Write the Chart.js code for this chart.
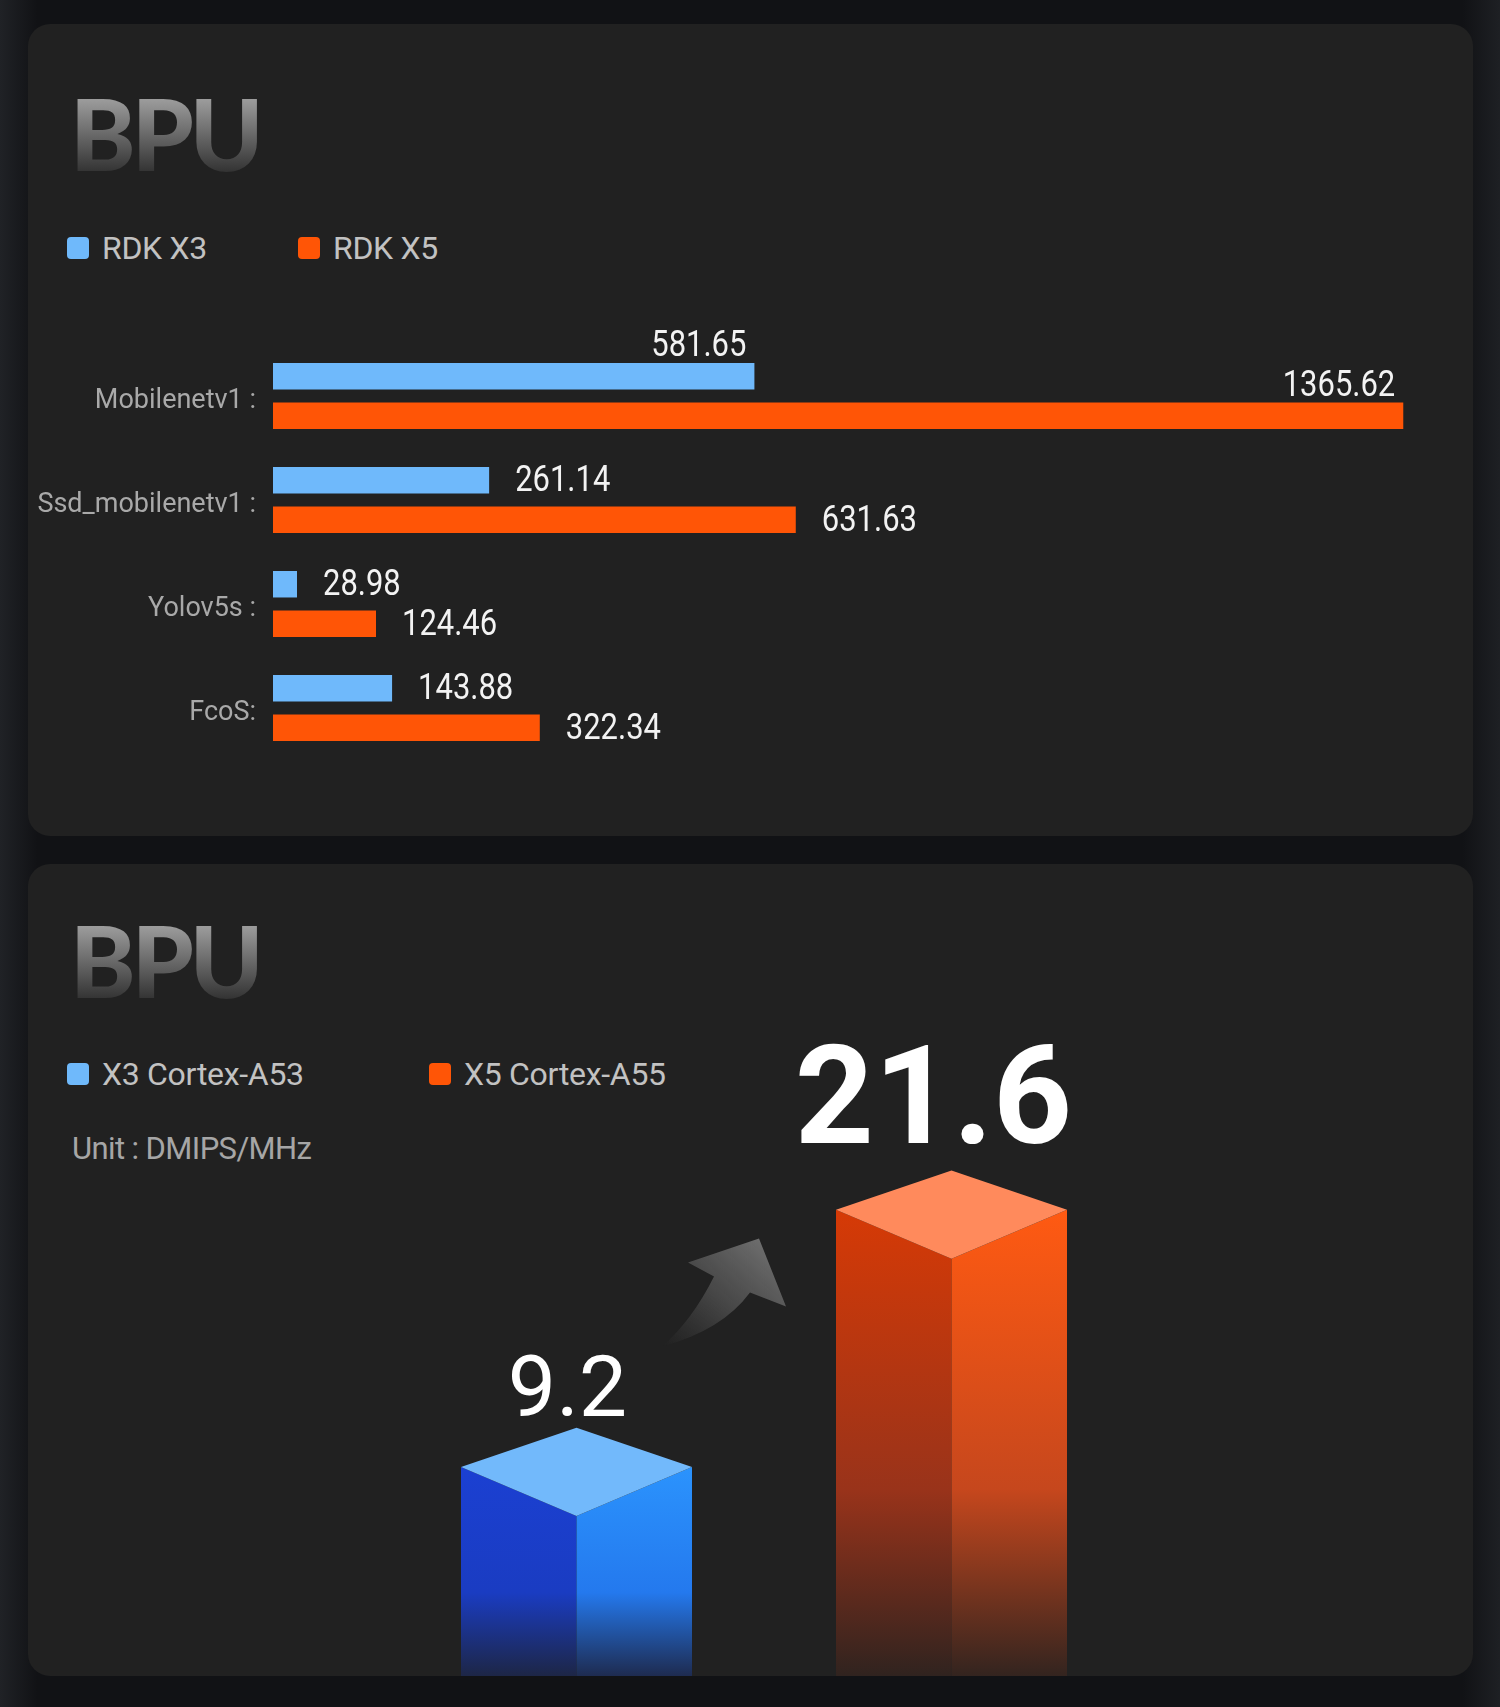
<!DOCTYPE html>
<html>
<head>
<meta charset="utf-8">
<title>BPU</title>
<script src="https://cdn.jsdelivr.net/npm/chart.js@4.4.1/dist/chart.umd.min.js"></script>
<style>
  html, body { margin: 0; padding: 0; }
  body {
    width: 1500px; height: 1707px; position: relative; overflow: hidden;
    background: linear-gradient(90deg, #202226 0, #111215 2.5%, #111215 97.5%, #1e2024 100%);
    font-family: Roboto, sans-serif;
  }
  .panel { position: absolute; left: 28px; width: 1445px; height: 812px; background: #212121; border-radius: 22px; }
  #p1 { top: 24px; }
  #p2 { top: 864px; }
  .title {
    position: absolute; left: 70px; font-family: Lato, sans-serif; font-weight: 900;
    font-size: 99px; line-height: 104px; letter-spacing: -4px;
    background: linear-gradient(180deg, #a0a0a0 15%, #2c2c2c 92%);
    -webkit-background-clip: text; background-clip: text; color: transparent;
  }
  .key { position: absolute; height: 40px; line-height: 40px; font-size: 32px; letter-spacing: -0.3px; color: #c2c2c2; white-space: nowrap; }
  .key i { position: absolute; left: -35px; top: 9px; width: 22px; height: 22px; border-radius: 4px; }
  .unit { position: absolute; left: 72px; top: 1129px; height: 40px; line-height: 40px; font-size: 31px; letter-spacing: -0.6px; color: #a6a6a6; }
  .box { position: absolute; left: 28px; width: 1445px; }
</style>
</head>
<body>
<div class="panel" id="p1"></div>
<div class="panel" id="p2"></div>

<div class="title" style="top:81px">BPU</div>
<div class="key" style="left:102px; top:228px"><i style="background:#6fb9fb"></i>RDK X3</div>
<div class="key" style="left:333px; top:228px"><i style="background:#ff5506"></i>RDK X5</div>
<div class="box" style="top:290px; height:510px"><canvas id="bpuChart"></canvas></div>

<div class="title" style="top:908px">BPU</div>
<div class="key" style="left:102px; top:1054px"><i style="background:#6fb9fb"></i>X3 Cortex-A53</div>
<div class="key" style="left:464px; top:1054px"><i style="background:#ff5506"></i>X5 Cortex-A55</div>
<div class="unit">Unit : DMIPS/MHz</div>
<div class="box" style="top:864px; height:812px"><canvas id="cpuChart"></canvas></div>

<script>
// BPU inference numbers
const categories = ['Mobilenetv1 :', 'Ssd_mobilenetv1 :', 'Yolov5s :', 'FcoS:'];
const rdkX3 = [581.65, 261.14, 28.98, 143.88];
const rdkX5 = [1365.62, 631.63, 124.46, 322.34];

// CPU score, DMIPS/MHz
const cpuLabels = ['X3 Cortex-A53', 'X5 Cortex-A55'];
const cpuValues = [9.2, 21.6];

const BLUE = '#6fb9fb';
const ORANGE = '#ff5506';

Chart.defaults.font.family = 'Roboto, sans-serif';

// numbers next to the horizontal bars (squeezed a bit, the original font is narrow)
const barValues = {
    id: 'barValues',
    afterDatasetsDraw(chart) {
        const ctx = chart.ctx;
        const squeeze = 0.86;
        chart.data.datasets.forEach((ds, di) => {
            chart.getDatasetMeta(di).data.forEach((bar, i) => {
                const txt = ds.data[i].toFixed(2);
                ctx.save();
                ctx.font = '36px Roboto, sans-serif';
                ctx.fillStyle = '#f3f3f3';
                if (i === 0) {
                    // first row: value sits on top of the bar end
                    ctx.translate(bar.x - 8, bar.y - bar.height / 2 - 7);
                    ctx.scale(squeeze, 1);
                    ctx.textAlign = 'right';
                    ctx.textBaseline = 'alphabetic';
                } else {
                    ctx.translate(bar.x + 26, bar.y + 2);
                    ctx.scale(squeeze, 1);
                    ctx.textAlign = 'left';
                    ctx.textBaseline = 'middle';
                }
                ctx.fillText(txt, 0, 0);
                ctx.restore();
            });
        });
    }
};

// 3d columns for the cpu chart
const cubeFaces = [
    { top: '#72b9fb', left: ['#1b40d2', '#1a3cc2', '#1d2646'], right: ['#2b93fd', '#2479ee', '#1e2b50'] },
    { top: '#ff8a5c', left: ['#d63a06', '#99331a', '#30231f'], right: ['#ff5a12', '#c6471d', '#33241f'] }
];

function shade(ctx, y0, y1, stops) {
    const g = ctx.createLinearGradient(0, y0, 0, y1);
    g.addColorStop(0, stops[0]);
    g.addColorStop(0.6, stops[1]);
    g.addColorStop(1, stops[2]);
    return g;
}

const cubes = {
    id: 'cubes',
    afterDatasetsDraw(chart) {
        const ctx = chart.ctx;
        const bars = chart.getDatasetMeta(0).data;
        const bottom = chart.height;
        const maxVal = Math.max(...cpuValues);

        // arrow between the two columns
        const a = bars[0], b = bars[1];
        const gx = (a.x + a.width / 2 + b.x - b.width / 2) / 2;
        const gy = (a.y + b.y) / 2;
        ctx.save();
        ctx.translate(gx, gy);
        const ag = ctx.createLinearGradient(-100, 8, -5, -100);
        ag.addColorStop(0, 'rgba(70,70,70,0)');
        ag.addColorStop(0.5, 'rgba(80,80,80,0.8)');
        ag.addColorStop(1, '#6e6e6e');
        ctx.fillStyle = ag;
        ctx.beginPath();
        ctx.moveTo(-102, 8);
        ctx.quadraticCurveTo(-72, -18, -50, -62);
        ctx.lineTo(-76, -76);
        ctx.lineTo(-5, -100);
        ctx.lineTo(22, -32);
        ctx.lineTo(-14, -46);
        ctx.quadraticCurveTo(-42, -8, -102, 8);
        ctx.closePath();
        ctx.fill();
        ctx.restore();

        bars.forEach((bar, i) => {
            const f = cubeFaces[i];
            const h = bar.width / 2;
            const dT = bar.width * 0.17;
            const dF = bar.width * 0.212;
            const x = bar.x, y = bar.y;
            ctx.save();
            // left face
            ctx.fillStyle = shade(ctx, y, bottom, f.left);
            ctx.beginPath();
            ctx.moveTo(x - h, y); ctx.lineTo(x, y + dF); ctx.lineTo(x, bottom); ctx.lineTo(x - h, bottom);
            ctx.closePath(); ctx.fill();
            // right face
            ctx.fillStyle = shade(ctx, y, bottom, f.right);
            ctx.beginPath();
            ctx.moveTo(x, y + dF); ctx.lineTo(x + h, y); ctx.lineTo(x + h, bottom); ctx.lineTo(x, bottom);
            ctx.closePath(); ctx.fill();
            // top face
            ctx.fillStyle = f.top;
            ctx.beginPath();
            ctx.moveTo(x, y - dT); ctx.lineTo(x + h, y); ctx.lineTo(x, y + dF); ctx.lineTo(x - h, y);
            ctx.closePath(); ctx.fill();

            // value
            const v = cpuValues[i];
            const big = v === maxVal;
            ctx.fillStyle = '#ffffff';
            ctx.textAlign = 'center';
            ctx.textBaseline = 'alphabetic';
            ctx.font = big ? '700 138px Roboto, sans-serif' : '400 86px Roboto, sans-serif';
            ctx.fillText(String(v), x - (big ? 18 : 9), y - (big ? 67 : 51));
            ctx.restore();
        });
    }
};

new Chart(document.getElementById('bpuChart'), {
    type: 'bar',
    data: {
        labels: categories,
        datasets: [
            { label: 'RDK X3', data: rdkX3, backgroundColor: BLUE, categoryPercentage: 0.76, barPercentage: 0.67 },
            { label: 'RDK X5', data: rdkX5, backgroundColor: ORANGE, categoryPercentage: 0.76, barPercentage: 0.67 }
        ]
    },
    options: {
        indexAxis: 'y',
        responsive: true,
        maintainAspectRatio: false,
        animation: false,
        layout: { padding: { top: 54, bottom: 40, right: 33, left: 0 } },
        plugins: {
            legend: { display: false },
            tooltip: { enabled: false }
        },
        scales: {
            x: { display: false, min: 0, max: 1410 },
            y: {
                grid: { display: false, drawTicks: false },
                border: { display: false },
                ticks: { color: '#a9a9a9', font: { size: 27 }, padding: 17, labelOffset: 5 },
                afterFit(axis) { axis.width = 245; }
            }
        }
    },
    plugins: [barValues]
});

new Chart(document.getElementById('cpuChart'), {
    type: 'bar',
    data: {
        labels: cpuLabels,
        datasets: [{
            data: cpuValues,
            backgroundColor: 'rgba(0,0,0,0)',
            categoryPercentage: 1,
            barPercentage: 0.616
        }]
    },
    options: {
        responsive: true,
        maintainAspectRatio: false,
        animation: false,
        layout: { padding: { left: 361, right: 334, top: 130, bottom: 18 } },
        plugins: {
            legend: { display: false },
            tooltip: { enabled: false }
        },
        scales: {
            x: { display: false },
            y: { display: false, min: 0, max: 32 }
        }
    },
    plugins: [cubes]
});
</script>
</body>
</html>
